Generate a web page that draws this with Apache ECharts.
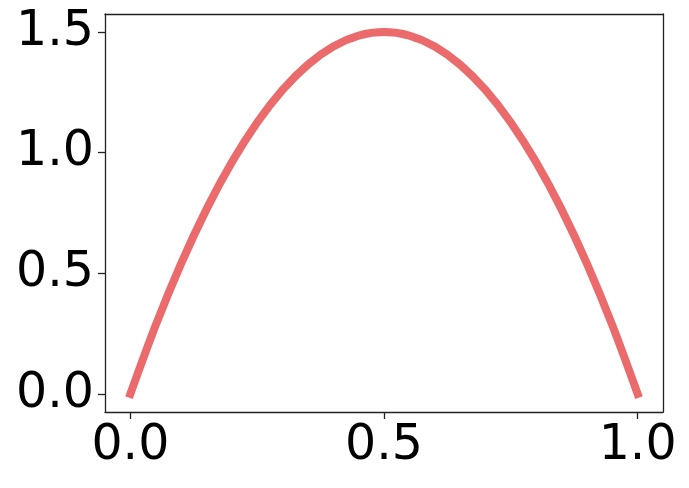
<!DOCTYPE html>
<html>
<head>
<meta charset="utf-8">
<script src="https://cdn.jsdelivr.net/npm/echarts@6/dist/echarts.min.js"></script>
<style>
  html, body { margin: 0; padding: 0; background: #fff; }
  #main { width: 689px; height: 488px; }
</style>
</head>
<body>
<div id="main"></div>
<script>
// values
var xValues = [0, 0.05, 0.1, 0.15, 0.2, 0.25, 0.3, 0.35, 0.4, 0.45, 0.5,
               0.55, 0.6, 0.65, 0.7, 0.75, 0.8, 0.85, 0.9, 0.95, 1];
var yValues = [0, 0.285, 0.54, 0.765, 0.96, 1.125, 1.26, 1.365, 1.44, 1.485, 1.5,
               1.485, 1.44, 1.365, 1.26, 1.125, 0.96, 0.765, 0.54, 0.285, 0];
var xTicks = [0, 0.5, 1];
var yTicks = [0, 0.5, 1, 1.5];

var chart = echarts.init(document.getElementById('main'));

var points = [];
for (var i = 0; i < xValues.length; i++) {
    points.push([xValues[i], yValues[i]]);
}

var axisCommon = {
    type: 'value',
    splitLine: { show: false },
    axisLine: { show: true, onZero: false, lineStyle: { color: '#222', width: 1.3 } },
    axisTick: { show: true, length: 7, inside: false, lineStyle: { color: '#222', width: 1.3 } },
    axisLabel: {
        color: '#000',
        fontSize: 49,
        fontFamily: 'DejaVu Sans'
    }
};

var option = {
    animation: false,
    backgroundColor: '#fff',
    grid: { left: 105, top: 14, right: 26, bottom: 76, containLabel: false },
    xAxis: [
        echarts.util.merge({
            min: -0.05, max: 1.05,
            axisLabel: {
                margin: 10,
                customValues: xTicks,
                formatter: function (v) { return v.toFixed(1); }
            },
            axisTick: { customValues: xTicks }
        }, axisCommon),
        { type: 'value', position: 'top', min: -0.05, max: 1.05,
          axisLine: { show: true, onZero: false, lineStyle: { color: '#222', width: 1.3 } },
          axisTick: { show: false }, axisLabel: { show: false }, splitLine: { show: false } }
    ],
    yAxis: [
        echarts.util.merge({
            min: -0.075, max: 1.575,
            axisLabel: {
                margin: 11,
                customValues: yTicks,
                formatter: function (v) { return v.toFixed(1); }
            },
            axisTick: { customValues: yTicks }
        }, axisCommon),
        { type: 'value', position: 'right', min: -0.075, max: 1.575,
          axisLine: { show: true, onZero: false, lineStyle: { color: '#222', width: 1.3 } },
          axisTick: { show: false }, axisLabel: { show: false }, splitLine: { show: false } }
    ],
    series: [{
        type: 'line',
        data: points,
        smooth: 0.3,
        symbol: 'none',
        lineStyle: { color: '#EB6A6B', width: 8, cap: 'square' }
    }]
};

chart.setOption(option);
</script>
</body>
</html>
